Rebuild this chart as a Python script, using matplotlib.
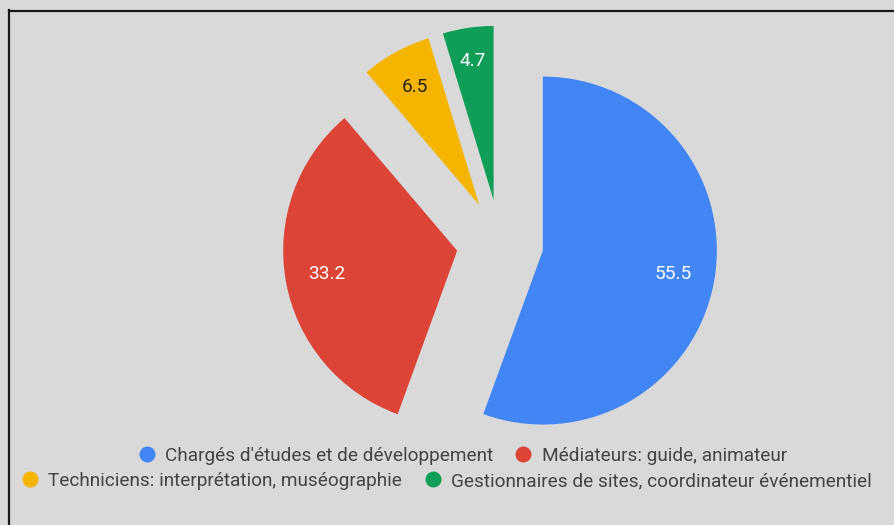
import numpy as np
import matplotlib.pyplot as plt
from matplotlib.lines import Line2D

plt.rcParams['font.family'] = ['Roboto', 'DejaVu Sans']

# Données
labels = ["Chargés d'études et de développement",
          "Médiateurs: guide, animateur",
          "Techniciens: interprétation, muséographie",
          "Gestionnaires de sites, coordinateur événementiel"]
values = [55.5, 33.2, 6.5, 4.7]
colors = ['#4285f4', '#db4437', '#f4b400', '#0f9d58']
label_colors = ['white', 'white', '#222222', 'white']
label_dist = [0.76, 0.76, 0.77, 0.81]

W, H = 895, 525
bg = '#d9d9d9'
fig = plt.figure(figsize=(W / 100, H / 100), dpi=100, facecolor=bg)

# pie centre (500, 243) px, rayon 174 px
cx, cy, r = 500, 243, 174
hw, hh = 300, 240
ax = fig.add_axes([(cx - hw) / W, (H - cy - hh) / H, 2 * hw / W, 2 * hh / H])
ax.set_facecolor(bg)

explode = 0.25
wedges, _ = ax.pie(values, colors=colors, startangle=90, counterclock=False,
                   explode=[explode] * len(values), radius=1,
                   wedgeprops=dict(linewidth=0))
for w, v, c, d in zip(wedges, values, label_colors, label_dist):
    ang = np.deg2rad((w.theta1 + w.theta2) / 2)
    x = (explode + d) * np.cos(ang)
    y = (explode + d) * np.sin(ang)
    ax.text(x, y, f'{v}', color=c, fontsize=13.7, ha='center', va='center')
ax.set_xlim(-hw / r, hw / r)
ax.set_ylim(-hh / r, hh / r)
ax.axis('off')

# Légende sur deux lignes centrées
handles = [Line2D([], [], marker='o', linestyle='', markersize=11.5,
                  markerfacecolor=c, markeredgewidth=0) for c in colors]
rows = [((0, 1), 462, 456), ((2, 3), 446, 481)]
for idx, xc, yc in rows:
    leg = fig.legend([handles[i] for i in idx], [labels[i] for i in idx],
                     loc='center', bbox_to_anchor=(xc / W, 1 - yc / H),
                     ncol=2, frameon=False, fontsize=13.7,
                     handletextpad=0.45, columnspacing=1.1,
                     handlelength=1.0, borderpad=0)
    for t in leg.get_texts():
        t.set_color('#444444')

# bordure haut / gauche
fig.add_artist(Line2D([9 / W, 1], [1 - 10.5 / H, 1 - 10.5 / H], color='#1a1a1a',
                      lw=1.6, transform=fig.transFigure))
fig.add_artist(Line2D([9.5 / W, 9.5 / W], [0, 1 - 9.5 / H], color='#1a1a1a',
                      lw=1.6, transform=fig.transFigure))

fig.savefig('out.png', dpi=100, facecolor=bg)
